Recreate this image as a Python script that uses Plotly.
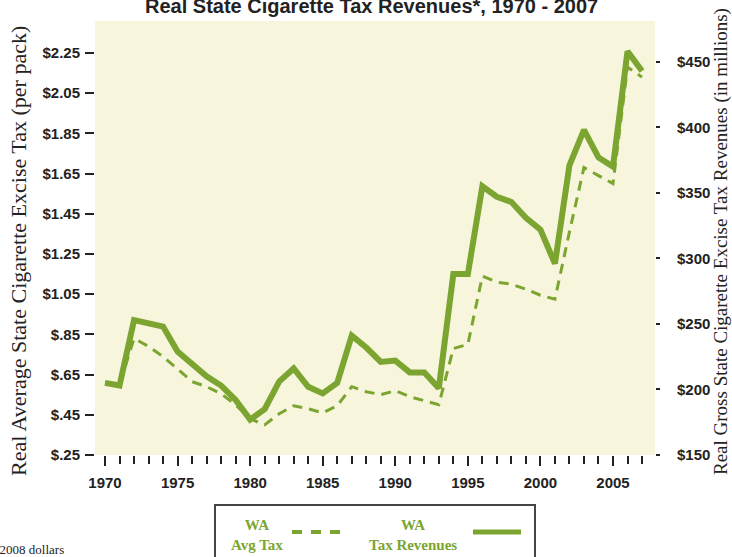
import plotly.graph_objects as go

years = list(range(1970, 2008))
avg_tax = [0.61, 0.60, 0.83, 0.79, 0.74, 0.675, 0.615, 0.59, 0.555, 0.50,
           0.43, 0.40, 0.455, 0.495, 0.48, 0.46, 0.495, 0.59, 0.565, 0.55,
           0.57, 0.54, 0.52, 0.50, 0.78, 0.80, 1.14, 1.11, 1.10, 1.075,
           1.045, 1.025, 1.36, 1.68, 1.64, 1.60, 2.18, 2.13]
tax_revenues = [205, 203, 253, 251, 248, 229, 219, 210, 203, 192,
                177, 185, 206, 216, 202, 197, 205, 241, 232, 221,
                222, 213, 213, 201, 288, 288, 355, 347, 343, 331,
                322, 296, 371, 398, 377, 370, 458, 443]

left_tickvals = [0.25, 0.45, 0.65, 0.85, 1.05, 1.25, 1.45, 1.65, 1.85, 2.05, 2.25]
left_ticktext = ["$.25", "$.45", "$.65", "$.85", "$1.05", "$1.25", "$1.45",
                 "$1.65", "$1.85", "$2.05", "$2.25"]
right_tickvals = [150, 200, 250, 300, 350, 400, 450]
right_ticktext = ["$150", "$200", "$250", "$300", "$350", "$400", "$450"]
x_tickvals = [1970, 1975, 1980, 1985, 1990, 1995, 2000, 2005]

GREEN = "#7BA530"
BEIGE = "#F7F5DC"
TICKFONT = dict(family="Liberation Sans, Arial, sans-serif",
                size=15, color="#222222", weight="bold")
SERIF = "Liberation Serif, Times New Roman, serif"

W, H = 732, 557
L, R, T, B = 95, 77, 21, 102
PW, PH = W - L - R, H - T - B


def px(x):
    return (x - L) / PW


def py(y):
    return (H - B - y) / PH


fig = go.Figure()
fig.add_trace(go.Scatter(x=years, y=tax_revenues, yaxis="y2", mode="lines",
                         name="WA Tax Revenues",
                         line=dict(color=GREEN, width=6)))
fig.add_trace(go.Scatter(x=years, y=avg_tax, yaxis="y", mode="lines",
                         name="WA Avg Tax",
                         line=dict(color=GREEN, width=3, dash="10px,7px")))

fig.update_layout(
    width=W, height=H,
    margin=dict(l=L, r=R, t=T, b=B, autoexpand=False),
    paper_bgcolor="white",
    plot_bgcolor=BEIGE,
    showlegend=False,
    xaxis=dict(range=[1969.311, 2007.895], tickvals=x_tickvals,
               ticks="outside", ticklen=10, tickwidth=2, tickcolor="#222222",
               minor=dict(dtick=1, tick0=1970, ticks="outside", ticklen=8,
                          tickwidth=2, tickcolor="#222222"),
               showgrid=False, zeroline=False, showline=False,
               tickfont=TICKFONT, ticklabelstandoff=4, automargin=False),
    yaxis=dict(range=[0.25, 0.25 + PH / 201.0], tickvals=left_tickvals,
               ticktext=left_ticktext, ticks="outside", ticklen=9, tickwidth=2,
               tickcolor="#222222", showgrid=False, zeroline=False,
               showline=False, tickfont=TICKFONT, ticklabelstandoff=2,
               automargin=False),
    yaxis2=dict(range=[150, 150 + PH / 1.3107], tickvals=right_tickvals,
                ticktext=right_ticktext, overlaying="y", side="right",
                ticks="outside", ticklen=4, tickwidth=2, tickcolor="#222222",
                showgrid=False, zeroline=False, showline=False,
                tickfont=TICKFONT, ticklabelstandoff=14, automargin=False),
)

annotations = [
    dict(text="Real State Cigarette Tax Revenues*, 1970 - 2007",
         x=px(371.4), y=py(6), xref="paper", yref="paper",
         xanchor="center", yanchor="middle", showarrow=False,
         font=dict(family="Liberation Sans, Arial, sans-serif", size=20,
                   color="#222222", weight="bold")),
    dict(text="Real Average State Cigarette Excise Tax (per pack)",
         x=px(18), y=py(251), xref="paper", yref="paper", textangle=-90,
         xanchor="center", yanchor="middle", showarrow=False,
         font=dict(family=SERIF, size=22, color="#222222")),
    dict(text="Real Gross State Cigarette Excise Tax Revenues (in millions)",
         x=px(721), y=py(242), xref="paper", yref="paper", textangle=-90,
         xanchor="center", yanchor="middle", showarrow=False,
         font=dict(family=SERIF, size=19, color="#222222")),
    dict(text="*In 2008 dollars",
         x=px(66), y=py(549), xref="paper", yref="paper",
         xanchor="right", yanchor="middle", showarrow=False,
         font=dict(family=SERIF, size=13, color="#222222")),
    dict(text="WA<br>Avg Tax",
         x=px(257), y=py(535), xref="paper", yref="paper",
         xanchor="center", yanchor="middle", showarrow=False,
         font=dict(family=SERIF, size=15, color=GREEN, weight="bold")),
    dict(text="WA<br>Tax Revenues",
         x=px(413), y=py(535), xref="paper", yref="paper",
         xanchor="center", yanchor="middle", showarrow=False,
         font=dict(family=SERIF, size=15, color=GREEN, weight="bold")),
]
fig.update_layout(annotations=annotations)

shapes = [
    dict(type="rect", xref="paper", yref="paper",
         x0=px(215), x1=px(535), y0=py(505), y1=py(575),
         line=dict(color="#444444", width=2), fillcolor="rgba(0,0,0,0)"),
    dict(type="line", xref="paper", yref="paper",
         x0=px(292), x1=px(340), y0=py(532), y1=py(532),
         line=dict(color=GREEN, width=4, dash="10px,9px")),
    dict(type="line", xref="paper", yref="paper",
         x0=px(473), x1=px(521), y0=py(532), y1=py(532),
         line=dict(color=GREEN, width=5)),
]
fig.update_layout(shapes=shapes)

fig.write_html("out.html",
               config={"displayModeBar": False},
               post_script="document.body.style.margin='0px';"
                           "document.body.style.overflow='hidden';")
